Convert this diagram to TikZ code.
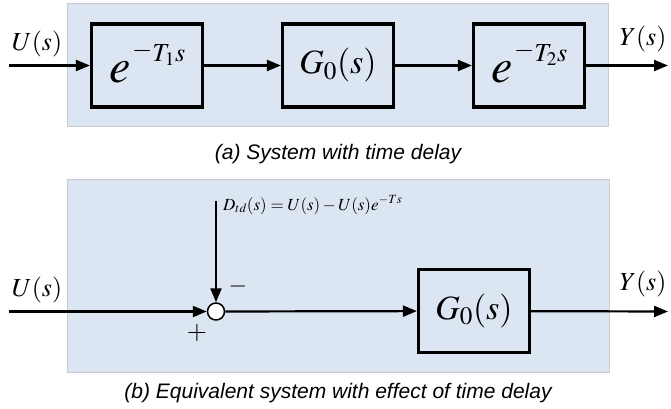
\documentclass[tikz,border=0pt]{standalone}
\usepackage{mathptmx}
\usepackage[no-math]{fontspec}
\newfontfamily\capfont{Liberation Sans}
\usetikzlibrary{arrows.meta}
\definecolor{panelfill}{HTML}{DCE6F2}
\definecolor{panelline}{HTML}{C8CCD2}
\tikzset{
  panel/.style={fill=panelfill,draw=panelline,line width=0.8pt},
  blockbox/.style={draw=black,line width=3.2pt,minimum width=111pt,minimum height=83pt,inner sep=0pt,fill=panelfill},
  sig/.style={line width=2.2pt,-{Triangle[length=14pt,width=11pt]}},
  sumnode/.style={circle,draw=black,line width=1.5pt,fill=white,minimum size=17pt,inner sep=0pt},
  lbl/.style={inner sep=0pt,font=\fontsize{26}{26}\selectfont},
  caption/.style={inner sep=0pt,font=\capfont\itshape\fontsize{21}{21}\selectfont},
  ebase/.style={inner sep=0pt,anchor=base east,text height=22pt,text depth=0pt,font=\fontsize{48}{48}\selectfont},
  eexp/.style={inner sep=0pt,anchor=base west,font=\fontsize{26}{26}\selectfont},
}
\newcommand{\himinus}{\raisebox{4pt}{$-$}}
\begin{document}
\begin{tikzpicture}[x=1pt,y=-1pt]
\useasboundingbox (0,0) rectangle (671,409);
% panels
\draw[panel] (67,3) rectangle (608,126);
\draw[panel] (67,179) rectangle (609,372);
% top chain
\coordinate (uin) at (9,65.5);
\coordinate (yout) at (668,65.5);
\node[blockbox] (d1) at (147,65.5) {};
\node[blockbox] (g1) at (338,65.5) {\fontsize{34}{34}\selectfont$G_0(s)$};
\node[blockbox] (d2) at (529,65.5) {};
\node[ebase] (e1) at (131,83) {$e$};
\node[eexp] (x1) at (132,62) {\himinus$T_1s$};
\node[ebase] (e2) at (513,83) {$e$};
\node[eexp] (x2) at (514,62) {\himinus$T_2s$};
\draw[sig] (uin) -- (d1);
\draw[sig] (d1) -- (g1);
\draw[sig] (g1) -- (d2);
\draw[sig] (d2) -- (yout);
\node[lbl] (ulab) at (37,44) {$U(s)$};
\node[lbl] (ylab) at (643,39) {$Y(s)$};
\node[caption] (capa) at (338,154) {(a) System with time delay};
% bottom
\coordinate (uin2) at (9,311.5);
\coordinate (yout2) at (668,311.5);
\coordinate (dtop) at (216,201);
\node[sumnode] (sum) at (216,311.5) {};
\node[blockbox] (g2) at (474,311) {\fontsize{34}{34}\selectfont$G_0(s)$};
\draw[sig] (uin2) -- (sum);
\draw[sig] (dtop) -- (sum);
\draw[sig] (sum) -- (g2);
\draw[sig] (g2) -- (yout2);
\node[anchor=west,inner sep=0pt,font=\fontsize{17}{17}\selectfont] (dlab) at (223,205) {$D_{td}(s)=U(s)-U(s)e^{-Ts}$};
\node[inner sep=0pt,font=\fontsize{24}{24}\selectfont] (minus) at (238,286) {$-$};
\node[inner sep=0pt,font=\fontsize{26}{26}\selectfont] (plus) at (197,333) {$+$};
\node[lbl] (ulab2) at (37,290) {$U(s)$};
\node[lbl] (ylab2) at (643,284) {$Y(s)$};
\node[caption] (capb) at (338,393) {(b) Equivalent system with effect of time delay};
\end{tikzpicture}
\end{document}
